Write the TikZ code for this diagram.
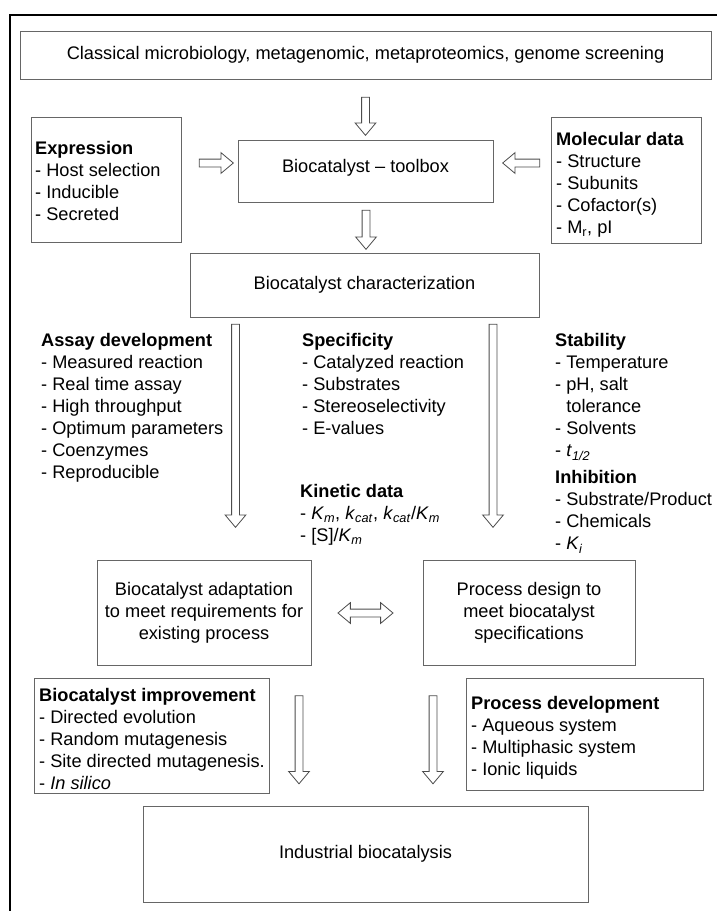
\documentclass[tikz,border=0pt]{standalone}
\usepackage{fontspec}
\setmainfont{Liberation Sans}
\usetikzlibrary{shapes.arrows, positioning}

\newcommand{\kv}[2]{\textit{#1}\textsubscript{\textit{#2}}}

\begin{document}
\begin{tikzpicture}[
  x=1pt, y=-1pt,
  font=\fontsize{18.2}{22}\selectfont,
  box/.style={rectangle, draw=black!60, line width=1pt, align=center, inner sep=0pt},
  list/.style={anchor=north west, align=left, inner sep=0pt},
  blockarr/.style={single arrow, draw=black!70, fill=white, line width=0.8pt, minimum width=20pt, single arrow head extend=6.5pt, single arrow head indent=0pt, single arrow tip angle=80, inner xsep=0pt, inner ysep=3.5pt},
  dblarr/.style={double arrow, draw=black!70, fill=white, line width=0.8pt, minimum width=20pt, double arrow head extend=6.5pt, double arrow head indent=0pt, double arrow tip angle=80, inner xsep=0pt, inner ysep=3.5pt}
]
  \useasboundingbox (0,0) rectangle (717,911);
  % outer frame, runs off the page right and bottom
  \draw[line width=2pt] (10,911) -- (10,15) -- (717,15);

  % boxes
  \node[box, minimum width=691pt, minimum height=48pt] (src) at (365.5,55) {Classical microbiology, metagenomic, metaproteomics, genome screening};
  \node[box, minimum width=255pt, minimum height=62pt, text depth=10pt] (tool) at (365.5,171) {Biocatalyst -- toolbox};
  \node[box, minimum width=150pt, minimum height=125pt] (expr) at (106,179.5) {};
  \node[box, minimum width=150pt, minimum height=126pt] (mol) at (626,180) {};
  \node[box, minimum width=349pt, minimum height=64pt] (char) at (364.5,285) {Biocatalyst characterization};
  \node[box, minimum width=214pt, minimum height=105pt] (adapt) at (204,612.5) {Biocatalyst adaptation\\to meet requirements for\\existing process};
  \node[box, minimum width=212pt, minimum height=105pt] (design) at (529,612.5) {Process design to\\meet biocatalyst\\specifications};
  \node[box, minimum width=235pt, minimum height=115pt] (impr) at (151.5,735.5) {};
  \node[box, minimum width=237pt, minimum height=112pt] (pdev) at (584.5,734) {};
  \node[box, minimum width=445pt, minimum height=96pt] (indus) at (365.5,854) {Industrial biocatalysis};

  % lists
  \node[list] (exprtxt) at (35,141.5) {\textbf{Expression}\\- Host selection\\- Inducible\\- Secreted};
  \node[list] (moltxt) at (556,132.5) {\textbf{Molecular data}\\- Structure\\- Subunits\\- Cofactor(s)\\- M\textsubscript{r}, pI};
  \node[list] (assay) at (41,333.5) {\textbf{Assay development}\\- Measured reaction\\- Real time assay\\- High throughput\\- Optimum parameters\\- Coenzymes\\- Reproducible};
  \node[list] (spec) at (302,333.5) {\textbf{Specificity}\\- Catalyzed reaction\\- Substrates\\- Stereoselectivity\\- E-values};
  \node[list] (stab) at (555,333.5) {\textbf{Stability}\\- Temperature\\- pH, salt\\\hphantom{- }tolerance\\- Solvents\\- \kv{t}{1/2}};
  \node[list] (inhib) at (555,470.5) {\textbf{Inhibition}\\- Substrate/Product\\- Chemicals\\- \kv{K}{i}};
  \node[list] (kin) at (300,484.5) {\textbf{Kinetic data}\\- \kv{K}{m}, \kv{k}{cat}, \kv{k}{cat}/\kv{K}{m}\\- [S]/\kv{K}{m}};
  \node[list] (imprtxt) at (39,688.5) {\textbf{Biocatalyst improvement}\\- Directed evolution\\- Random mutagenesis\\- Site directed mutagenesis.\\- \textit{In silico}};
  \node[list] (pdevtxt) at (471,696.5) {\textbf{Process development}\\- Aqueous system\\- Multiphasic system\\- Ionic liquids};

  % hollow arrows
  \node[blockarr, rotate=-90, minimum height=38pt] (a1) at (365.5,114) {};
  \node[blockarr, rotate=-90, minimum height=39pt] (a2) at (366,227.5) {};
  \node[blockarr, minimum height=34pt] (a3) at (214,163) {};
  \node[blockarr, rotate=180, minimum height=37pt] (a4) at (523.5,163) {};
  \node[blockarr, rotate=-90, minimum height=203pt] (a5) at (235.5,423.5) {};
  \node[blockarr, rotate=-90, minimum height=203pt] (a6) at (493,423.5) {};
  \node[dblarr, minimum height=55pt] (a7) at (365.5,613) {};
  \node[blockarr, rotate=-90, minimum height=88pt] (a8) at (299,737.5) {};
  \node[blockarr, rotate=-90, minimum height=88pt] (a9) at (433,737.5) {};
\end{tikzpicture}
\end{document}
